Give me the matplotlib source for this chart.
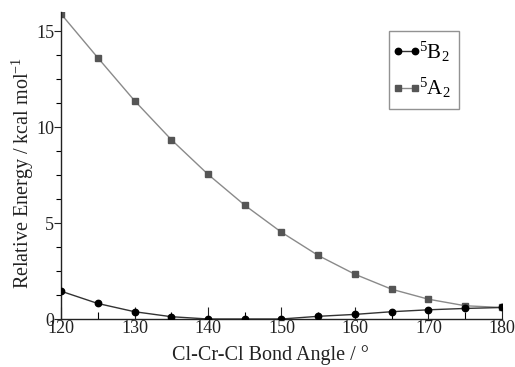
import matplotlib
matplotlib.use('Agg')
import matplotlib.pyplot as plt
from matplotlib.ticker import MultipleLocator
from matplotlib.lines import Line2D
from matplotlib.legend_handler import HandlerLine2D

# Ángulos Cl-Cr-Cl (grados)
angulos = [120, 125, 130, 135, 140, 145, 150, 155, 160, 165, 170, 175, 180]

# Energías relativas (kcal/mol)
energia_b2 = [1.45, 0.81, 0.38, 0.12, 0.0, 0.0, 0.0, 0.14, 0.24, 0.38, 0.48, 0.55, 0.60]
energia_a2 = [15.9, 13.62, 11.38, 9.35, 7.54, 5.93, 4.52, 3.31, 2.33, 1.55, 1.03, 0.69, 0.60]

plt.rcParams['font.family'] = ['Liberation Serif', 'DejaVu Serif']
plt.rcParams['mathtext.fontset'] = 'custom'
plt.rcParams['mathtext.rm'] = 'Liberation Serif'

fig = plt.figure(figsize=(5.15, 3.67), dpi=100)
ax = fig.add_axes([61 / 515, 48 / 367, 441 / 515, 307 / 367])

ax.plot(angulos, energia_b2, color='#333333', lw=1.0, marker='o', ms=4.6,
        mfc='black', mec='black', label=r'$\mathregular{^5B_2}$', zorder=3)
ax.plot(angulos, energia_a2, color='#8a8a8a', lw=1.0, marker='s', ms=3.8,
        mfc='#555555', mec='#555555', label=r'$\mathregular{^5A_2}$', zorder=2)

ax.set_xlim(120, 180)
ax.set_ylim(0, 16)
ax.xaxis.set_major_locator(MultipleLocator(10))
ax.xaxis.set_minor_locator(MultipleLocator(5))
ax.yaxis.set_major_locator(MultipleLocator(5))
ax.yaxis.set_minor_locator(MultipleLocator(1.25))

ax.spines['top'].set_visible(False)
ax.spines['right'].set_visible(False)
for s in ['left', 'bottom']:
    ax.spines[s].set_linewidth(1.0)
    ax.spines[s].set_color('#222222')

ax.tick_params(axis='x', which='major', direction='in', length=9, width=0.8,
               labelsize=13, pad=1, colors='#222222')
ax.tick_params(axis='x', which='minor', direction='in', length=5, width=0.8)
ax.tick_params(axis='y', which='major', direction='out', length=5, width=0.8,
               labelsize=13, pad=0, colors='#222222')
ax.tick_params(axis='y', which='minor', direction='out', length=3.5, width=0.8)

ax.set_xlabel('Cl-Cr-Cl Bond Angle / °', fontsize=14.5, color='#222222')
ax.xaxis.set_label_coords(0.476, -0.085)
ax.set_ylabel(r'Relative Energy / kcal mol$\mathregular{^{-1}}$', fontsize=14.5,
              color='#222222')
ax.yaxis.set_label_coords(-0.056, 0.476)

# Leyenda con marcadores en ambos extremos del trazo
manejador = HandlerLine2D(numpoints=2, marker_pad=0.05)
leg = ax.legend(loc='upper right', bbox_to_anchor=(0.903, 0.938), fontsize=15,
                frameon=True, fancybox=False, handlelength=0.9,
                handletextpad=0.15, borderpad=0.4, labelspacing=0.6,
                borderaxespad=0, handler_map={Line2D: manejador})
leg.get_frame().set_edgecolor('#777777')
leg.get_frame().set_linewidth(1.0)

fig.savefig('out.png', dpi=100)
plt.close(fig)
